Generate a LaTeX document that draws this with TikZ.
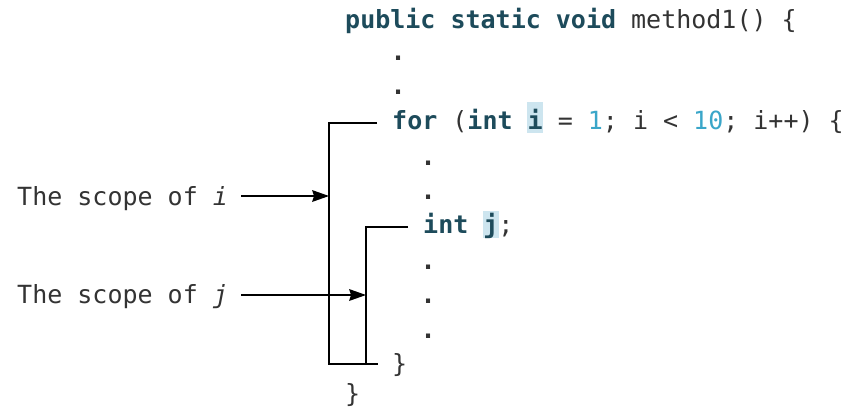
\documentclass[tikz,border=0pt]{standalone}
\usepackage{fontspec}
\setmonofont{DejaVu Sans Mono}
\definecolor{kw}{HTML}{1D4B5B}
\definecolor{tx}{HTML}{333333}
\definecolor{num}{HTML}{3AA6C9}
\definecolor{hlc}{HTML}{CDE5EF}
\newcommand\kwd[1]{\textbf{\textcolor{kw}{#1}}}
\newcommand\nm[1]{\textcolor{num}{#1}}
\newcommand\hlbox[2]{\leavevmode\rlap{\hspace{-0.5pt}\textcolor{hlc}{\rule[-#2]{16pt}{#1}}}}
\tikzset{
  code/.style={anchor=base west, inner sep=0pt, text=tx, font=\ttfamily\fontsize{25}{25}\selectfont},
  dotc/.style={code, font=\ttfamily\bfseries\fontsize{25}{25}\selectfont},
  conn/.style={line width=1.8pt, black},
  headtip/.style={fill=black}
}
\begin{document}
\begin{tikzpicture}[x=1pt,y=-1pt]
\useasboundingbox[fill=white] (0,0) rectangle (845,408);
% code lines
\node[code] (l1) at (345,28) {\kwd{public static void} method1() \{};
\node[dotc] (d1) at (390.5,60) {.};
\node[dotc] (d2) at (390.5,94) {.};
\node[code] (lfor) at (392,129) {\kwd{for} (\kwd{int} \hlbox{31pt}{4pt}\kwd{i} = \nm{1}; i < \nm{10}; i++) \{};
\node[dotc] (d3) at (420.5,165) {.};
\node[dotc] (d4) at (420.5,199) {.};
\node[code] (lj) at (423,233) {\kwd{int} \hlbox{27pt}{5pt}\kwd{j};};
\node[dotc] (d5) at (420.5,269) {.};
\node[dotc] (d6) at (420.5,303) {.};
\node[dotc] (d7) at (420.5,338) {.};
\node[code] (cb1) at (392,372) {\}};
\node[code] (cb2) at (345,402) {\}};
% labels
\node[code] (si) at (17,205) {The scope of \textit{i}};
\node[code] (sj) at (17,303) {The scope of \textit{j}};
% bracket coordinates
\coordinate (a1) at (377,123);
\coordinate (a2) at (329,123);
\coordinate (a3) at (329,364);
\coordinate (a4) at (378,364);
\coordinate (b1) at (408,227);
\coordinate (b2) at (366,227);
\coordinate (b3) at (366,364);
\coordinate (ai) at (329,196);
\coordinate (aj) at (366,295);
\draw[conn] (a1) -- (a2) -- (a3) -- (a4);
\draw[conn] (b1) -- (b2) -- (b3);
\draw[conn] ([xshift=13pt]si.east |- ai) -- ([xshift=-10pt]ai);
\draw[conn] ([xshift=13pt]sj.east |- aj) -- ([xshift=-10pt]aj);
\fill[headtip] (ai) -- ++(-17,-6) -- ++(2,6) -- ++(-2,6) -- cycle;
\fill[headtip] (aj) -- ++(-17,-6) -- ++(2,6) -- ++(-2,6) -- cycle;
\end{tikzpicture}
\end{document}
